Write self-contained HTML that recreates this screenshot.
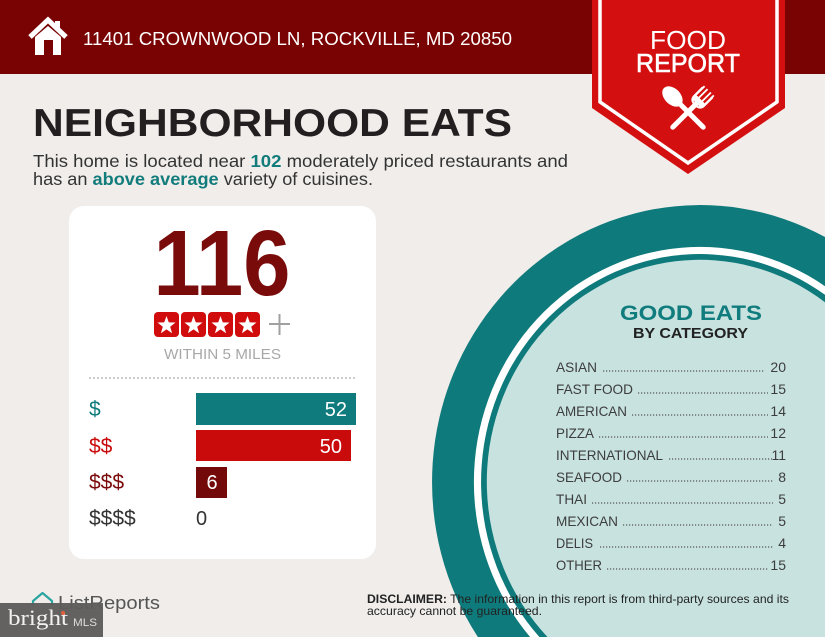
<!DOCTYPE html>
<html>
<head>
<meta charset="utf-8">
<style>
  html, body { margin: 0; padding: 0; background: #f0edea; width: 825px; height: 637px; overflow: hidden; }
  svg { display: block; font-family: "Liberation Sans", sans-serif; overflow: hidden; }
</style>
</head>
<body>
<svg width="825" height="637" viewBox="0 0 825 637" xmlns="http://www.w3.org/2000/svg">
  <!-- background -->
  <rect x="0" y="0" width="825" height="637" fill="#f0edea"/>

  <!-- header bar -->
  <rect x="0" y="0" width="825" height="74" fill="#790202"/>

  <!-- house icon -->
  <polyline points="30,37 48,20 66,37" fill="none" stroke="#ffffff" stroke-width="5" stroke-linejoin="miter"/>
  <rect x="55" y="21" width="5" height="9" fill="#ffffff"/>
  <polygon points="35,37 48,26 61,37 61,55 53,55 53,40 44,40 44,55 35,55" fill="#ffffff"/>

  <text x="83" y="45" font-size="18" fill="#ffffff" textLength="429" lengthAdjust="spacingAndGlyphs">11401 CROWNWOOD LN, ROCKVILLE, MD 20850</text>

  <!-- ribbon -->
  <polygon points="592,0 785,0 785,108 688,174 592,108" fill="#d40f10"/>
  <polyline points="600,0 600,102 688,163 777,102 777,0" fill="none" stroke="#ffffff" stroke-width="3.5" stroke-linejoin="miter"/>
  <text x="688" y="49" font-size="26" fill="#ffffff" text-anchor="middle" textLength="76" lengthAdjust="spacingAndGlyphs">FOOD</text>
  <text x="688" y="72" font-size="26" fill="#ffffff" text-anchor="middle" textLength="104" lengthAdjust="spacingAndGlyphs" stroke="#ffffff" stroke-width="0.6">REPORT</text>

  <!-- spoon & fork -->
  <g transform="translate(688,112) rotate(-45)">
    <ellipse cx="0" cy="-22" rx="8" ry="12" fill="#ffffff"/>
    <rect x="-2.5" y="-14" width="5" height="38" rx="2.5" fill="#ffffff"/>
  </g>
  <g transform="translate(688,112) rotate(45)">
    <rect x="-2.5" y="-14" width="5" height="38" rx="2.5" fill="#ffffff"/>
    <path d="M-7,-28 L-7,-16 Q-7,-10 0,-10 Q7,-10 7,-16 L7,-28" fill="none" stroke="#ffffff" stroke-width="2"/>
    <rect x="-7.5" y="-18" width="15" height="6" rx="3" fill="#ffffff"/>
    <line x1="-2.4" y1="-30" x2="-2.4" y2="-16" stroke="#ffffff" stroke-width="1.8"/>
    <line x1="2.4" y1="-30" x2="2.4" y2="-16" stroke="#ffffff" stroke-width="1.8"/>
    <line x1="-6.5" y1="-30" x2="-6.5" y2="-16" stroke="#ffffff" stroke-width="1.8"/>
    <line x1="6.5" y1="-30" x2="6.5" y2="-16" stroke="#ffffff" stroke-width="1.8"/>
  </g>

  <!-- headline -->
  <text x="33" y="136" font-size="39" font-weight="bold" fill="#231f20" textLength="479" lengthAdjust="spacingAndGlyphs">NEIGHBORHOOD EATS</text>

  <text x="33" y="167" font-size="17.5" fill="#333333" textLength="535" lengthAdjust="spacingAndGlyphs">This home is located near <tspan font-weight="bold" fill="#127b7b">102</tspan> moderately priced restaurants and</text>
  <text x="33" y="185" font-size="17.5" fill="#333333" textLength="340" lengthAdjust="spacingAndGlyphs">has an <tspan font-weight="bold" fill="#127b7b">above average</tspan> variety of cuisines.</text>

  <!-- left card -->
  <rect x="69" y="206" width="307" height="353" rx="15" ry="15" fill="#ffffff"/>

  <text x="222" y="295" font-size="93" font-weight="bold" fill="#7a0b0b" text-anchor="middle" textLength="137" lengthAdjust="spacingAndGlyphs">116</text>

  <!-- stars -->
  <g fill="#d10c0c">
    <rect x="154" y="312" width="25" height="25" rx="4"/>
    <rect x="181" y="312" width="25" height="25" rx="4"/>
    <rect x="208" y="312" width="25" height="25" rx="4"/>
    <rect x="235" y="312" width="25" height="25" rx="4"/>
  </g>
  <g fill="#ffffff">
    <polygon transform="translate(166.5,325.5)" points="0,-9.5 2.29,-3.16 9.04,-2.94 3.71,1.21 5.58,7.69 0,3.9 -5.58,7.69 -3.71,1.21 -9.04,-2.94 -2.29,-3.16"/>
    <polygon transform="translate(193.5,325.5)" points="0,-9.5 2.29,-3.16 9.04,-2.94 3.71,1.21 5.58,7.69 0,3.9 -5.58,7.69 -3.71,1.21 -9.04,-2.94 -2.29,-3.16"/>
    <polygon transform="translate(220.5,325.5)" points="0,-9.5 2.29,-3.16 9.04,-2.94 3.71,1.21 5.58,7.69 0,3.9 -5.58,7.69 -3.71,1.21 -9.04,-2.94 -2.29,-3.16"/>
    <polygon transform="translate(247.5,325.5)" points="0,-9.5 2.29,-3.16 9.04,-2.94 3.71,1.21 5.58,7.69 0,3.9 -5.58,7.69 -3.71,1.21 -9.04,-2.94 -2.29,-3.16"/>
  </g>
  <line x1="269" y1="324" x2="290" y2="324" stroke="#a0a0a0" stroke-width="2"/>
  <line x1="279.5" y1="314" x2="279.5" y2="335" stroke="#a0a0a0" stroke-width="2"/>

  <text x="222.5" y="359" font-size="15" fill="#a8a8a8" text-anchor="middle" textLength="117" lengthAdjust="spacingAndGlyphs">WITHIN 5 MILES</text>

  <line x1="89" y1="378" x2="356" y2="378" stroke="#9a9a9a" stroke-width="1" stroke-dasharray="2 2"/>

  <!-- price bars -->
  <rect x="196" y="393" width="160" height="32" fill="#107b7c"/>
  <rect x="196" y="430" width="155" height="31" fill="#c90b0b"/>
  <rect x="196" y="467" width="31" height="31" fill="#730909"/>

  <text x="89" y="416" font-size="21" fill="#107b7c">$</text>
  <text x="89" y="453" font-size="21" fill="#c90b0b">$$</text>
  <text x="89" y="489" font-size="21" fill="#7a0b0b">$$$</text>
  <text x="89" y="525" font-size="21" fill="#333333">$$$$</text>

  <text x="347" y="416" font-size="20" fill="#ffffff" text-anchor="end">52</text>
  <text x="342" y="453" font-size="20" fill="#ffffff" text-anchor="end">50</text>
  <text x="212" y="489" font-size="20" fill="#ffffff" text-anchor="middle">6</text>
  <text x="196" y="525" font-size="20" fill="#333333">0</text>

  <!-- big circle, pre-clipped to frame -->
  <path d="M825,237 A268,277 0 0 0 477.9,637 L825,637 Z" fill="#0f7a7b"/>
  <path d="M825,286.2 A226,235 0 0 0 530.1,637 L825,637 Z" fill="#ffffff"/>
  <path d="M825,294.8 A219,228 0 0 0 539.4,637 L825,637 Z" fill="#0f7a7b"/>
  <path d="M825,302.2 A213,222 0 0 0 547.5,637 L825,637 Z" fill="#c7e2df"/>

  <text x="691" y="320" font-size="21" font-weight="bold" fill="#117c7d" text-anchor="middle" textLength="142" lengthAdjust="spacingAndGlyphs">GOOD EATS</text>
  <text x="690.5" y="338" font-size="15" font-weight="bold" fill="#222222" text-anchor="middle" textLength="115" lengthAdjust="spacingAndGlyphs">BY CATEGORY</text>

  <g font-size="14" fill="#3d3d3d">
    <text x="556" y="372" textLength="41" lengthAdjust="spacingAndGlyphs">ASIAN</text>
    <text x="556" y="394" textLength="77" lengthAdjust="spacingAndGlyphs">FAST FOOD</text>
    <text x="556" y="416" textLength="71" lengthAdjust="spacingAndGlyphs">AMERICAN</text>
    <text x="556" y="438" textLength="38" lengthAdjust="spacingAndGlyphs">PIZZA</text>
    <text x="556" y="460" textLength="107" lengthAdjust="spacingAndGlyphs">INTERNATIONAL</text>
    <text x="556" y="482" textLength="66" lengthAdjust="spacingAndGlyphs">SEAFOOD</text>
    <text x="556" y="504" textLength="31" lengthAdjust="spacingAndGlyphs">THAI</text>
    <text x="556" y="526" textLength="62" lengthAdjust="spacingAndGlyphs">MEXICAN</text>
    <text x="556" y="548" textLength="37" lengthAdjust="spacingAndGlyphs">DELIS</text>
    <text x="556" y="570" textLength="46" lengthAdjust="spacingAndGlyphs">OTHER</text>
  </g>
  <g font-size="14" fill="#3d3d3d" text-anchor="end">
    <text x="786" y="372">20</text>
    <text x="786" y="394">15</text>
    <text x="786" y="416">14</text>
    <text x="786" y="438">12</text>
    <text x="786" y="460">11</text>
    <text x="786" y="482">8</text>
    <text x="786" y="504">5</text>
    <text x="786" y="526">5</text>
    <text x="786" y="548">4</text>
    <text x="786" y="570">15</text>
  </g>
  <g stroke="#555555" stroke-width="1.2" stroke-dasharray="1.2 1.8">
    <line x1="603" y1="371" x2="764" y2="371"/>
    <line x1="638" y1="393" x2="768" y2="393"/>
    <line x1="632" y1="415" x2="768" y2="415"/>
    <line x1="599" y1="437" x2="768" y2="437"/>
    <line x1="669" y1="459" x2="772" y2="459"/>
    <line x1="627" y1="481" x2="773" y2="481"/>
    <line x1="592" y1="503" x2="773" y2="503"/>
    <line x1="623" y1="525" x2="773" y2="525"/>
    <line x1="600" y1="547" x2="773" y2="547"/>
    <line x1="607" y1="569" x2="768" y2="569"/>
  </g>

  <!-- disclaimer -->
  <text x="367" y="603" font-size="12" fill="#222222" textLength="422" lengthAdjust="spacingAndGlyphs"><tspan font-weight="bold">DISCLAIMER:</tspan> The information in this report is from third-party sources and its</text>
  <text x="367" y="615" font-size="12" fill="#222222" textLength="175" lengthAdjust="spacingAndGlyphs">accuracy cannot be guaranteed.</text>

  <!-- ListReports logo -->
  <path d="M33,606 L33,601 L42.5,593 L52,601 L52,606" fill="none" stroke="#2aa5a0" stroke-width="2.2" stroke-linejoin="round"/>
  <text x="58" y="609" font-size="18" fill="#555555" textLength="102" lengthAdjust="spacingAndGlyphs">ListReports</text>

  <!-- bright MLS badge -->
  <rect x="0" y="603" width="103" height="34" fill="#5d5c5a" opacity="0.96"/>
  <text x="8" y="625" font-family="'Liberation Serif', serif" font-size="22" fill="#f2f2f2" textLength="60" lengthAdjust="spacingAndGlyphs">bright</text>
  <circle cx="63" cy="613" r="2" fill="#e0603a"/>
  <text x="73" y="626" font-size="11" fill="#dddddd" textLength="24" lengthAdjust="spacingAndGlyphs">MLS</text>
</svg>
</body>
</html>
